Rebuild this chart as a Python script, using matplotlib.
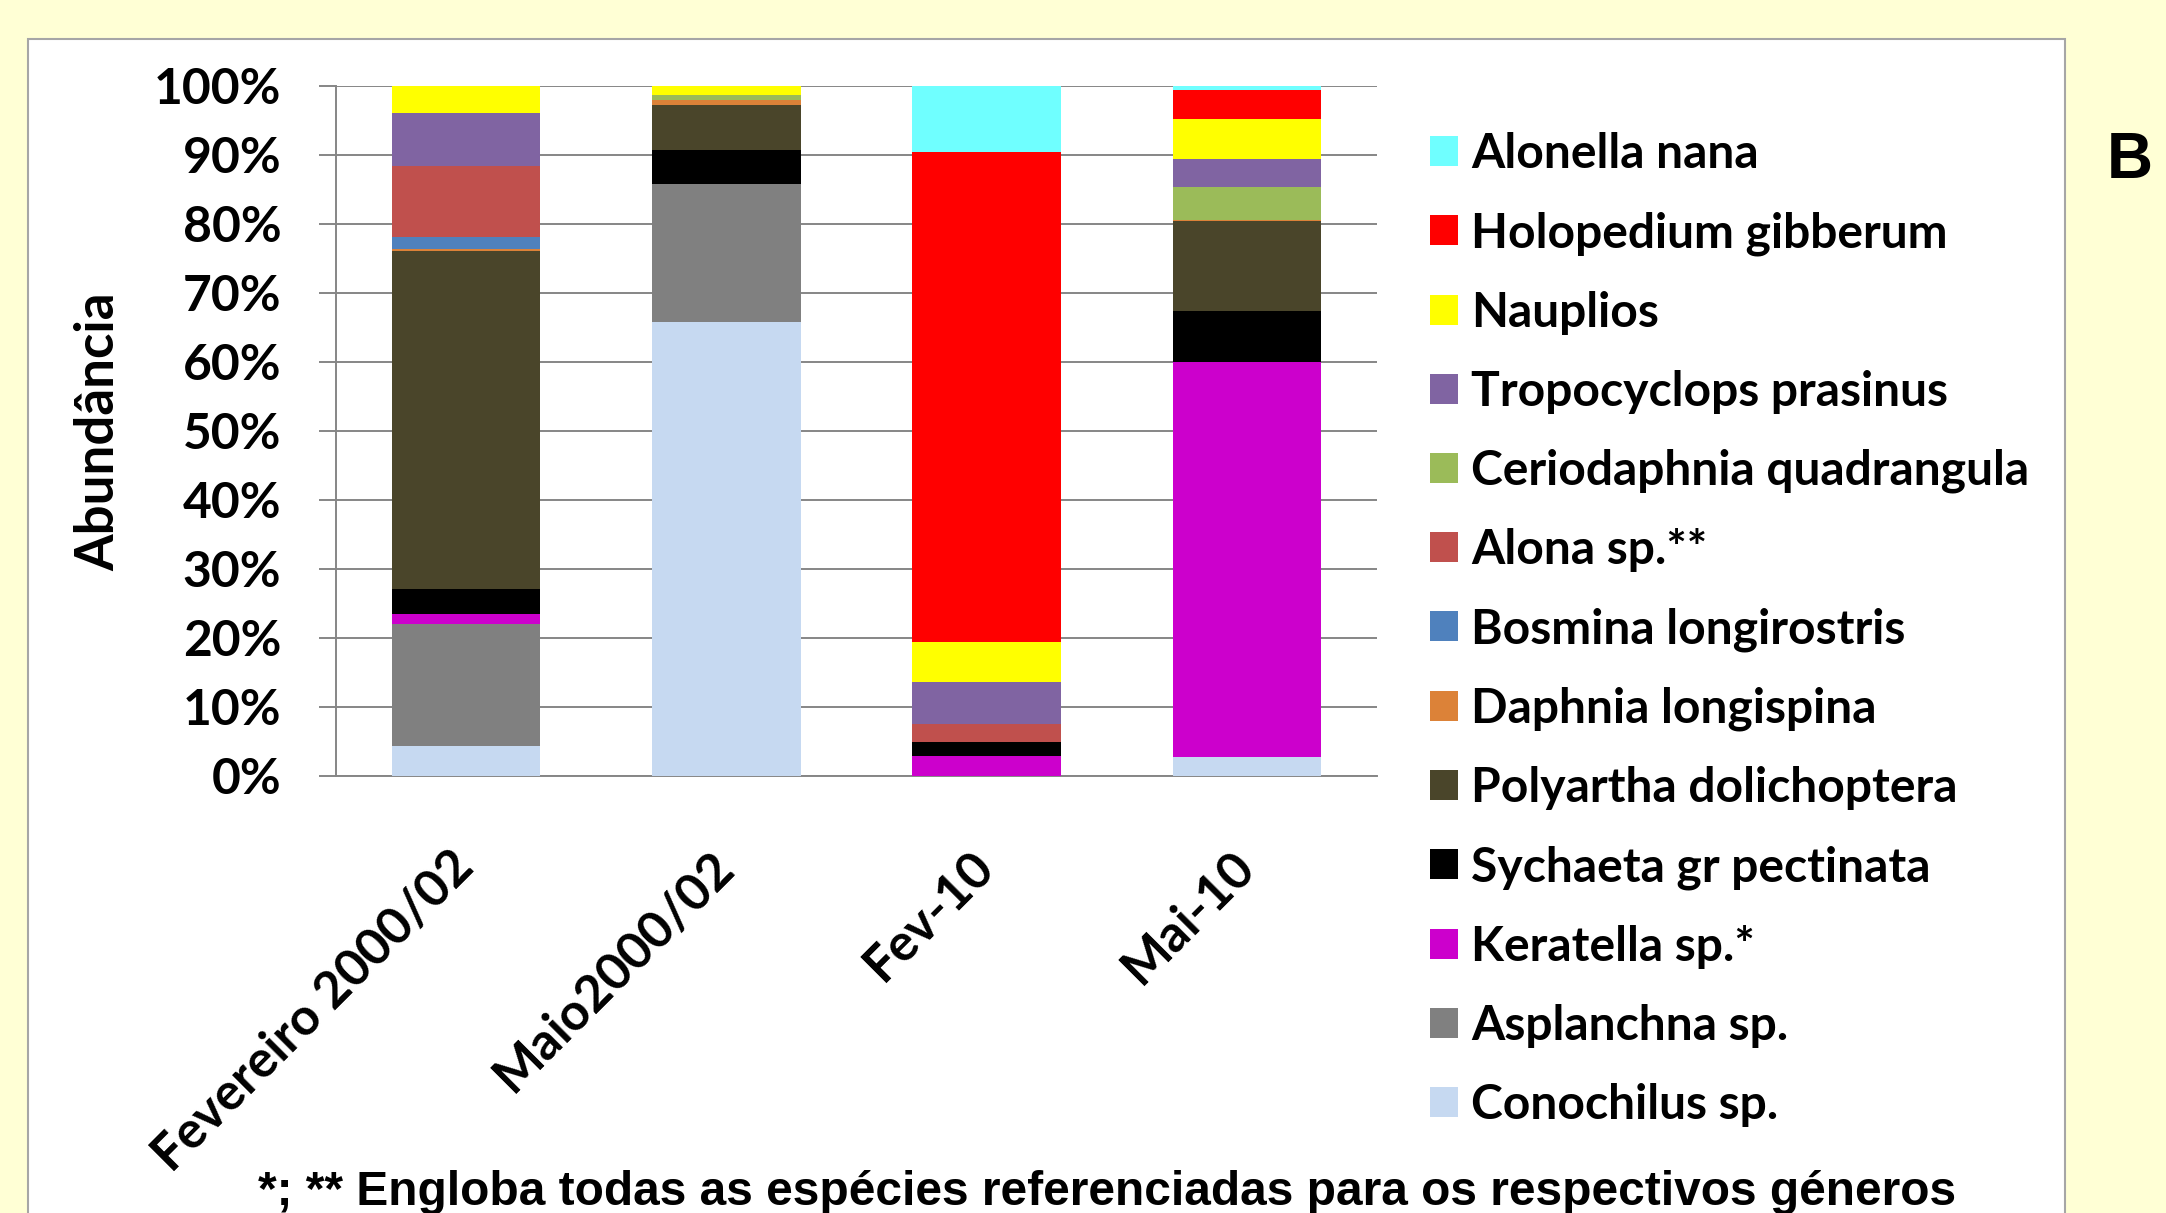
import matplotlib
matplotlib.use('Agg')
import matplotlib.pyplot as plt
from matplotlib.patches import Rectangle
import numpy as np

categories = ["Fevereiro 2000/02", "Maio2000/02", "Fev-10", "Mai-10"]

# stacking order bottom -> top
species = ["Conochilus sp.", "Asplanchna sp.", "Keratella sp.*", "Sychaeta gr pectinata",
           "Polyartha dolichoptera", "Daphnia longispina", "Bosmina longirostris",
           "Alona sp.**", "Ceriodaphnia quadrangula", "Tropocyclops prasinus",
           "Nauplios", "Holopedium gibberum", "Alonella nana"]

conochilus   = [4.3, 65.7, 0.0, 2.7]
asplanchna   = [17.7, 20.0, 0.0, 0.0]
keratella    = [1.4, 0.0, 2.9, 57.3]
sychaeta     = [3.7, 5.0, 2.0, 7.3]
polyartha    = [48.9, 6.5, 0.0, 13.1]
daphnia      = [0.4, 0.7, 0.0, 0.2]
bosmina      = [1.6, 0.0, 0.0, 0.0]
alona        = [10.3, 0.0, 2.7, 0.0]
ceriodaphnia = [0.0, 0.7, 0.0, 4.7]
tropocyclops = [7.7, 0.0, 6.0, 4.0]
nauplios     = [4.0, 1.4, 5.8, 5.8]
holopedium   = [0.0, 0.0, 71.0, 4.2]
alonella     = [0.0, 0.0, 9.6, 0.7]

series = [conochilus, asplanchna, keratella, sychaeta, polyartha, daphnia, bosmina,
          alona, ceriodaphnia, tropocyclops, nauplios, holopedium, alonella]

colors = ["#C6D9F1", "#808080", "#CC00CC", "#000000", "#4A452A", "#DC8238", "#4F81BD",
          "#C0504D", "#9BBB59", "#8064A2", "#FFFF00", "#FF0000", "#6FFFFF"]

yticks = [0, 10, 20, 30, 40, 50, 60, 70, 80, 90, 100]

W, H = 2166, 1213
fig = plt.figure(figsize=(W / 100, H / 100), dpi=100)
fig.patch.set_facecolor("#FFFFD5")

CAL = "Lato"
ARI = "Liberation Sans"

renderer = fig.canvas.get_renderer()


def fit(text, target_px, family, weight="bold"):
    t = fig.text(0, 0, text, fontsize=20, family=family, weight=weight)
    w = t.get_window_extent(renderer).width
    t.remove()
    return 20 * target_px / w


fs_leg = fit("Ceriodaphnia quadrangula", 560, CAL)
fs_tick = fit("100%", 128, CAL)
fs_foot = fit("*; ** Engloba todas as espécies referenciadas para os respectivos géneros", 1697, ARI)
fs_xt = fs_leg * 1.06
fs_yl = fs_leg * 1.1

# white panel
panel = Rectangle((28 / W, -0.05), (2065 - 28) / W, 1.05 - 39 / H, transform=fig.transFigure,
                  facecolor="white", edgecolor="#A6A6A6", lw=1.5, zorder=0)
fig.add_artist(panel)

ax = fig.add_axes([336 / W, 1 - 776 / H, (1377 - 336) / W, (776 - 85.6) / H])
ax.set_facecolor("white")

data = np.array(series, dtype=float)
pct = data / data.sum(axis=0) * 100
x = np.arange(len(categories))
bottom = np.zeros(len(categories))
containers = []
for name, vals, c in zip(species, pct, colors):
    bc = ax.bar(x, vals, 0.57, bottom=bottom, color=c, label=name, zorder=3, linewidth=0)
    containers.append(bc)
    bottom += vals

ax.set_xlim(-0.5, 3.5)
ax.set_ylim(0, 100)
ax.set_yticks(yticks)
ax.set_yticklabels([f"{v}%" for v in yticks], fontsize=fs_tick, family=CAL, weight="bold")
ax.yaxis.grid(True, color="#868686", lw=1.4, zorder=0)
ax.tick_params(axis="y", length=12.5, width=1.4, color="#868686", pad=27)
ax.set_xticks(x)
ax.set_xticklabels(categories, rotation=45, ha="right", va="center", rotation_mode="anchor",
                   fontsize=fs_xt, family=CAL, weight="bold")
ax.tick_params(axis="x", length=0, pad=60)
for s in ["top", "right"]:
    ax.spines[s].set_visible(False)
for s in ["left", "bottom"]:
    ax.spines[s].set_color("#868686")
    ax.spines[s].set_linewidth(1.4)

ax.set_ylabel("Abundância", fontsize=fs_yl, family=CAL, weight="bold", va="center")
ax.yaxis.set_label_coords((99 - 336) / 1041, (776 - 432) / 690.4)

handles = [bc.patches[0] for bc in containers][::-1]
labels = species[::-1]
fpx = fs_leg * 100 / 72
leg = fig.legend(handles, labels, loc="upper left", bbox_to_anchor=(1430 / W, 1 - 132 / H),
                 frameon=False, prop={"family": CAL, "weight": "bold", "size": fs_leg},
                 handlelength=28 / fpx, handleheight=28 / fpx, handletextpad=13 / fpx,
                 labelspacing=0.6 + 6.25 / fpx, borderpad=0, borderaxespad=0)

fig.text(258 / W, 1 - 1205 / H, "*; ** Engloba todas as espécies referenciadas para os respectivos géneros",
         family=ARI, weight="bold", fontsize=fs_foot, ha="left", va="baseline")
fig.text(2130 / W, 1 - 161 / H, "B", family=ARI, weight="bold", fontsize=46, ha="center", va="center")

fig.savefig("out.png", dpi=100, facecolor=fig.get_facecolor())
